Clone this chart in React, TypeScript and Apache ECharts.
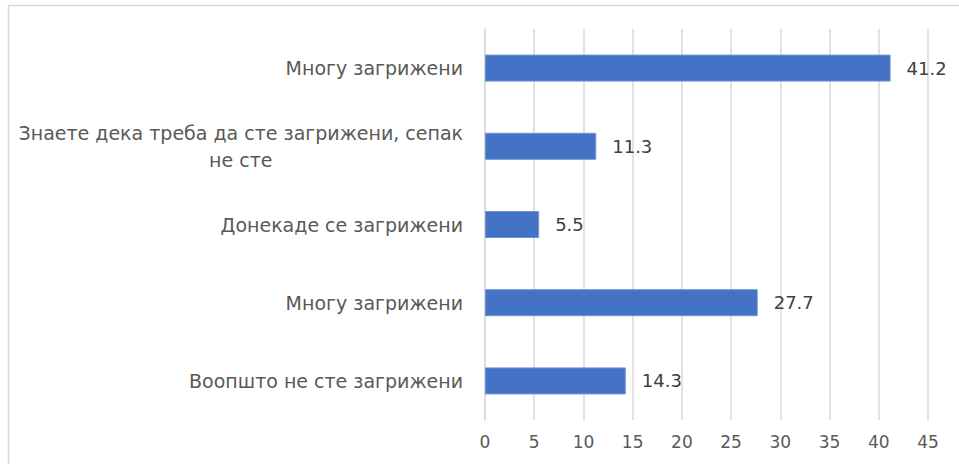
import React, { useEffect, useRef } from "react";
import * as echarts from "echarts";

const categories: string[] = [
  "Многу загрижени",
  "Знаете дека треба да сте загрижени, сепак не сте",
  "Донекаде се загрижени",
  "Многу загрижени",
  "Воопшто не сте загрижени",
];
const values: number[] = [41.2, 11.3, 5.5, 27.7, 14.3];
const axisMax = 45;
const axisStep = 5;

const FONT = "DejaVu Sans";

function wrap(s: string, max: number): string[] {
  const words = s.split(" ");
  const lines: string[] = [];
  let cur = "";
  for (const w of words) {
    const t = cur ? cur + " " + w : w;
    if (t.length > max && cur) {
      lines.push(cur);
      cur = w;
    } else cur = t;
  }
  if (cur) lines.push(cur);
  return lines;
}

export default function App() {
  const ref = useRef<HTMLDivElement>(null);
  useEffect(() => {
    if (!ref.current) return;
    const chart = echarts.init(ref.current, undefined, { renderer: "svg" });
    chart.setOption({
      animation: false,
      backgroundColor: "#ffffff",
      graphic: [
        { type: "line", shape: { x1: 8, y1: 5.5, x2: 959, y2: 5.5 }, style: { stroke: "#d9d9d9", lineWidth: 1.5 } },
        { type: "line", shape: { x1: 8.5, y1: 5, x2: 8.5, y2: 464 }, style: { stroke: "#d9d9d9", lineWidth: 1.5 } },
      ],
      grid: { left: 485, right: 31, top: 29, bottom: 44, containLabel: false },
      xAxis: {
        type: "value",
        min: 0,
        max: axisMax,
        interval: axisStep,
        axisLine: { show: false },
        axisTick: { show: false },
        splitLine: { show: true, lineStyle: { color: "#d9d9d9", width: 1.5 } },
        axisLabel: { color: "#595959", fontSize: 17, fontFamily: FONT, margin: 13 },
      },
      yAxis: {
        type: "category",
        inverse: true,
        data: categories,
        axisLine: { show: true, lineStyle: { color: "#d9d9d9", width: 1.5 } },
        axisTick: { show: false },
        axisLabel: {
          margin: 22,
          color: "#595959",
          formatter: (v: string) =>
            wrap(v, 42).map((l) => `{c|${l}}`).join("\n"),
          rich: {
            c: { align: "center", fontSize: 19, lineHeight: 27, color: "#595959", fontFamily: FONT },
          },
        },
      },
      series: [
        {
          type: "bar",
          data: values,
          barWidth: 27,
          itemStyle: { color: "#4472c4", borderColor: "#6f93d3", borderWidth: 1 },
          label: {
            show: true,
            position: "right",
            distance: 16,
            color: "#404040",
            fontSize: 18,
            fontFamily: FONT,
            formatter: (p: any) => p.value.toFixed(1),
          },
        },
      ],
    });
    return () => chart.dispose();
  }, []);
  return <div ref={ref} style={{ position: "fixed", left: 0, top: 0, width: 959, height: 464 }} />;
}
